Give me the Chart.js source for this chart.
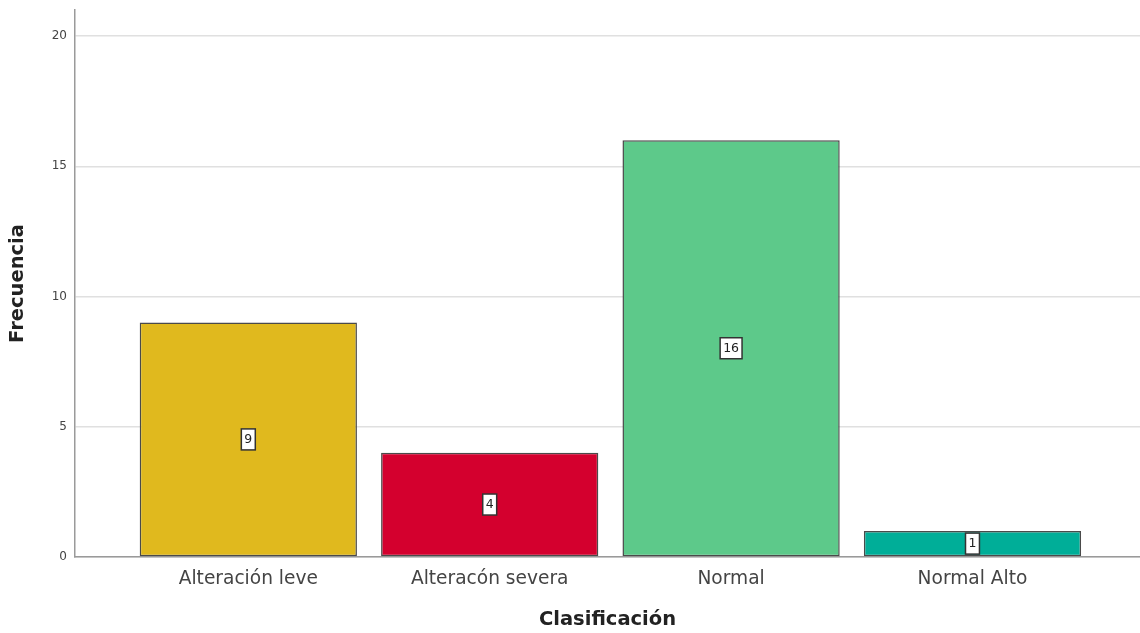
<!DOCTYPE html>
<html>
<head>
<meta charset="utf-8">
<title>Clasificación</title>
<script src="https://cdn.jsdelivr.net/npm/chart.js@4.4.1/dist/chart.umd.min.js"></script>
<style>
  html, body { margin: 0; padding: 0; background: #ffffff; }
  #wrap { width: 1140px; height: 633px; }
</style>
</head>
<body>
<div id="wrap"><canvas id="chart" width="1140" height="633"></canvas></div>
<script>
// Frequency of each classification
const categories = ['Alteración leve', 'Alteracón severa', 'Normal', 'Normal Alto'];
const frequencies = [9, 4, 16, 1];
const barColors = ['#E0B91E', '#D4002E', '#5DC98A', '#00AE98'];
const yTickValues = [0, 5, 10, 15, 20];

const FONT = "'DejaVu Sans', 'Liberation Sans', sans-serif";

// Small boxed value label in the middle of every bar
const valueBoxes = {
  id: 'valueBoxes',
  afterDatasetsDraw(chart) {
    const ctx = chart.ctx;
    const meta = chart.getDatasetMeta(0);
    ctx.save();
    ctx.font = '12.5px ' + FONT;
    ctx.textAlign = 'center';
    ctx.textBaseline = 'middle';
    meta.data.forEach((bar, i) => {
      const text = String(frequencies[i]);
      const cx = bar.x;
      const cy = (bar.y + bar.base) / 2;
      const w = ctx.measureText(text).width + 6;
      const h = 21;
      ctx.fillStyle = '#ffffff';
      ctx.fillRect(cx - w / 2, cy - h / 2, w, h);
      ctx.strokeStyle = '#333333';
      ctx.lineWidth = 1.5;
      ctx.strokeRect(cx - w / 2, cy - h / 2, w, h);
      ctx.fillStyle = '#222222';
      ctx.fillText(text, cx, cy + 0.5);
    });
    ctx.restore();
  }
};

new Chart(document.getElementById('chart'), {
  type: 'bar',
  data: {
    datasets: [{
      data: frequencies.map((v, i) => ({ x: i, y: v })),
      backgroundColor: barColors,
      borderColor: '#4a4a4a',
      borderWidth: 1.5,
      borderSkipped: false,
      barPercentage: 0.9,
      categoryPercentage: 1.0
    }]
  },
  options: {
    responsive: false,
    animation: false,
    layout: { padding: { top: 10, left: 0, right: 0, bottom: 0 } },
    plugins: {
      legend: { display: false },
      tooltip: { enabled: false }
    },
    scales: {
      x: {
        type: 'linear',
        offset: false,
        min: -0.718,
        max: 3.694,
        afterBuildTicks(scale) {
          scale.ticks = categories.map((_, i) => ({ value: i }));
        },
        afterFit(scale) {
          scale.height = 76;
          scale.paddingLeft = 0;
          scale.paddingRight = 0;
        },
        grid: { display: false, drawTicks: false },
        border: { display: true, color: '#9a9a9a', width: 1.5 },
        ticks: {
          autoSkip: false,
          maxRotation: 0,
          padding: 11,
          color: '#444444',
          font: { family: FONT, size: 18.6 },
          callback: (v) => categories[v]
        },
        title: {
          display: true,
          text: 'Clasificación',
          color: '#222222',
          font: { family: FONT, size: 19.5, weight: 'bold' },
          padding: { top: 0, bottom: 1 }
        }
      },
      y: {
        min: 0,
        max: 21,
        afterBuildTicks(scale) {
          scale.ticks = yTickValues.map(v => ({ value: v }));
        },
        afterFit(scale) {
          scale.width = 75;
          scale.paddingTop = 0;
          scale.paddingBottom = 0;
        },
        grid: { color: '#e0e0e0', lineWidth: 1.5, drawTicks: false },
        border: { display: true, color: '#9a9a9a', width: 1.5 },
        ticks: {
          padding: 8,
          color: '#444444',
          font: { family: FONT, size: 12 }
        },
        title: {
          display: true,
          text: 'Frecuencia',
          color: '#222222',
          font: { family: FONT, size: 19.5, weight: 'bold' },
          padding: { top: 6, bottom: 0 }
        }
      }
    }
  },
  plugins: [valueBoxes]
});
</script>
</body>
</html>
